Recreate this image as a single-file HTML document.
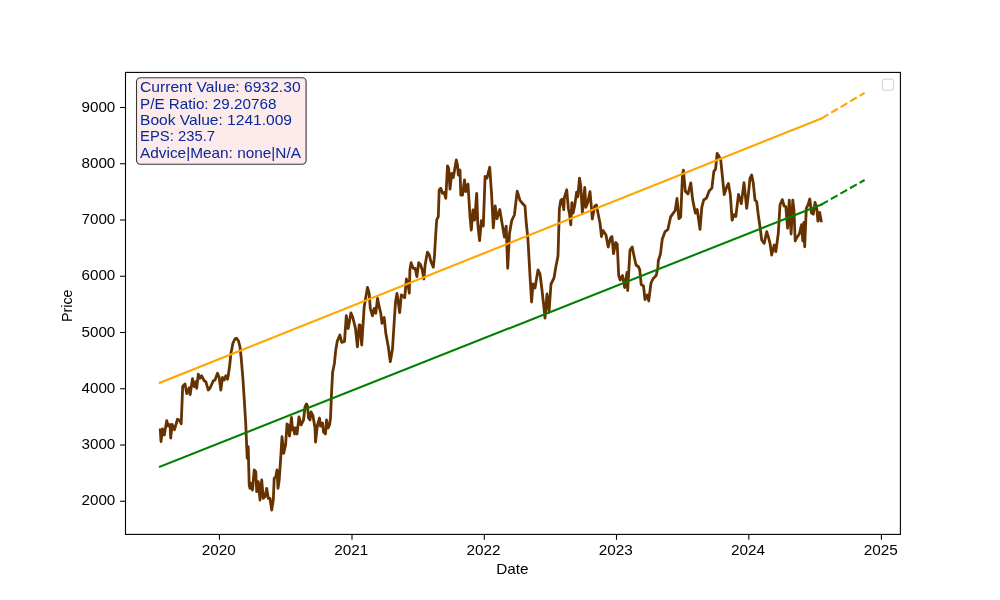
<!DOCTYPE html>
<html><head><meta charset="utf-8"><style>
html,body{margin:0;padding:0;background:#fff;}
svg{display:block;will-change:transform;}
text{font-family:"Liberation Sans", sans-serif;font-size:13.9px;}
</style></head><body>
<svg width="1000" height="600" viewBox="0 0 1000 600">
<rect x="0" y="0" width="1000" height="600" fill="#fff"/>
<path d="M160.2,428.5 L161.0,441.5 L162.5,429.0 L164.3,435.0 L166.7,420.7 L168.2,426.0 L170.0,424.5 L170.7,438.0 L172.2,424.5 L174.5,429.7 L177.5,419.2 L179.7,420.7 L181.2,423.7 L182.7,386.2 L185.0,384.0 L186.8,393.7 L189.2,387.7 L190.2,394.5 L192.5,378.7 L194.2,386.7 L195.8,381.7 L196.7,388.3 L198.3,374.2 L200.0,378.3 L201.7,375.8 L204.2,380.8 L205.8,381.7 L208.3,390.0 L210.0,388.3 L213.3,380.8 L215.0,380.0 L217.5,373.3 L219.2,377.5 L220.8,390.0 L222.5,377.5 L224.2,380.0 L225.8,375.8 L227.5,379.2 L228.2,376.0 L229.6,366.0 L231.0,353.0 L233.0,343.0 L235.0,338.8 L236.6,338.2 L238.5,341.0 L240.0,347.0 L241.2,358.0 L243.0,380.0 L244.6,405.0 L245.8,425.0 L247.2,458.3 L248.2,446.7 L249.2,485.0 L250.0,488.3 L251.3,483.3 L252.5,490.0 L254.2,470.0 L255.8,471.7 L256.7,491.7 L258.3,481.7 L260.0,500.0 L261.7,480.0 L263.3,498.3 L265.0,496.7 L266.7,488.3 L268.3,498.3 L270.0,498.3 L271.7,510.0 L273.3,500.0 L274.2,478.3 L275.8,476.7 L277.0,470.0 L278.0,488.3 L279.2,480.0 L280.8,456.7 L282.0,436.7 L283.7,453.3 L285.6,445.0 L287.0,424.0 L288.0,425.0 L289.5,436.0 L291.5,417.5 L292.5,430.0 L294.0,428.0 L294.5,434.0 L295.5,428.0 L297.0,434.0 L299.0,417.0 L301.0,425.0 L303.5,420.0 L305.0,407.0 L306.5,404.0 L307.5,406.0 L308.5,418.0 L310.0,420.0 L311.0,412.0 L313.0,416.0 L315.0,428.0 L315.5,442.0 L316.5,433.0 L317.5,425.0 L319.5,418.0 L320.5,426.0 L322.5,423.0 L323.5,432.0 L325.5,434.0 L326.5,420.0 L328.0,428.0 L329.5,425.0 L330.5,418.0 L331.5,394.0 L332.6,372.6 L334.4,363.4 L335.7,350.6 L337.2,341.4 L339.9,335.0 L341.8,342.3 L344.5,341.4 L346.3,315.7 L348.2,328.5 L350.9,312.9 L352.8,317.5 L355.5,328.5 L357.4,346.9 L359.2,324.9 L360.0,325.0 L361.7,345.0 L364.2,306.7 L367.5,287.5 L369.2,293.3 L370.3,308.3 L372.5,315.8 L374.2,308.3 L375.8,313.3 L377.5,298.3 L379.2,306.7 L380.8,313.3 L382.0,323.3 L384.2,317.5 L385.8,333.3 L388.3,346.7 L390.3,361.7 L392.5,349.0 L394.0,325.0 L395.5,302.0 L397.0,293.3 L399.7,312.5 L401.3,295.0 L403.7,296.7 L404.7,297.7 L406.4,279.0 L408.2,286.0 L409.3,293.0 L409.9,269.7 L411.1,262.7 L412.3,266.2 L413.4,268.5 L415.2,268.5 L416.9,276.7 L418.7,262.7 L420.4,264.4 L422.2,269.7 L423.9,279.0 L425.1,265.0 L427.4,252.2 L429.2,254.5 L430.9,261.5 L433.3,267.3 L434.4,256.8 L435.8,233.3 L436.7,220.0 L438.3,216.7 L439.2,190.0 L440.8,188.3 L442.5,193.3 L444.2,192.5 L445.8,198.3 L447.5,165.8 L448.7,168.3 L450.0,189.2 L451.7,173.3 L453.3,177.5 L456.3,160.0 L457.5,165.0 L458.3,175.0 L460.0,170.0 L460.8,195.0 L462.5,195.0 L464.5,180.0 L465.8,191.7 L468.0,184.2 L470.0,216.7 L471.3,230.0 L473.0,210.0 L474.7,220.0 L476.7,193.3 L477.8,224.2 L479.6,240.7 L481.4,220.6 L483.3,226.1 L485.1,176.5 L486.9,178.3 L489.7,167.3 L491.5,193.0 L493.3,227.9 L495.2,205.9 L497.0,218.7 L499.8,209.5 L501.6,220.6 L504.4,237.1 L506.2,226.1 L507.7,268.3 L509.5,233.4 L511.7,220.6 L514.4,215.0 L517.2,191.2 L520.0,200.4 L523.0,204.0 L525.0,206.0 L526.0,220.0 L528.0,240.0 L529.0,258.0 L530.0,276.0 L531.6,302.0 L533.0,284.0 L535.0,288.0 L538.0,270.0 L540.0,274.0 L542.0,290.0 L544.0,308.0 L545.0,318.0 L547.0,294.0 L549.0,312.0 L551.0,284.0 L554.0,278.0 L556.0,266.0 L558.0,256.0 L559.4,208.5 L560.8,200.3 L562.0,199.2 L563.8,209.7 L564.3,198.0 L566.7,189.8 L568.4,208.5 L569.6,214.3 L570.8,224.8 L571.9,202.7 L573.1,213.2 L574.8,205.0 L576.6,192.2 L577.8,196.8 L579.5,178.2 L580.7,185.2 L582.4,213.2 L584.8,187.5 L585.9,207.3 L587.7,202.7 L590.0,191.6 L591.2,205.0 L592.3,219.0 L594.7,206.2 L596.4,205.0 L598.2,214.3 L600.0,223.0 L601.5,236.5 L603.0,230.5 L606.0,235.0 L608.2,247.0 L610.5,238.0 L612.0,236.5 L613.5,253.7 L615.7,242.5 L617.2,244.0 L618.7,275.5 L620.2,280.0 L622.5,275.5 L624.7,287.5 L627.0,272.5 L627.7,290.5 L630.0,250.0 L632.2,247.0 L633.7,254.5 L636.0,265.0 L638.2,266.5 L639.7,269.5 L641.2,284.5 L643.5,286.0 L645.0,299.5 L647.2,295.0 L648.7,301.0 L651.0,283.0 L653.2,278.5 L656.2,275.5 L657.8,268.3 L658.3,261.0 L660.5,253.6 L662.3,238.9 L665.1,231.6 L667.8,229.7 L670.6,216.9 L673.3,213.2 L675.2,210.5 L677.0,198.5 L678.9,218.7 L680.7,216.9 L682.5,174.7 L683.4,170.1 L685.3,191.2 L688.0,193.9 L690.8,182.9 L692.6,199.4 L695.4,213.2 L697.2,209.5 L700.0,229.4 L701.8,207.4 L703.7,200.0 L706.4,198.2 L709.2,190.9 L711.9,188.1 L713.8,171.6 L715.6,168.9 L717.1,153.3 L718.9,156.0 L720.7,159.7 L722.0,172.5 L724.2,194.5 L726.6,187.2 L728.4,183.5 L730.3,194.5 L732.1,220.2 L733.9,214.7 L735.8,216.6 L738.5,194.5 L741.3,203.7 L744.0,182.6 L746.7,208.3 L748.3,195.0 L750.0,178.3 L751.7,175.0 L753.3,183.3 L755.0,200.0 L756.7,201.7 L758.3,215.0 L760.0,226.7 L761.7,240.0 L764.2,243.3 L766.7,231.7 L768.3,236.7 L770.0,243.3 L771.7,255.0 L774.2,245.0 L775.8,251.7 L778.3,233.3 L780.0,205.0 L782.3,199.6 L784.1,206.0 L785.8,206.6 L787.6,228.2 L789.3,200.2 L791.1,234.0 L792.8,200.2 L794.0,210.7 L795.2,241.0 L796.9,237.5 L799.3,234.0 L801.6,224.7 L802.8,241.0 L803.9,222.3 L804.7,246.8 L806.3,208.3 L808.0,204.8 L809.8,199.0 L811.5,213.0 L813.3,214.2 L815.0,202.5 L816.8,208.3 L817.9,221.2 L819.7,212.4 L821.4,222.3" fill="none" stroke="#663300" stroke-width="2.8" stroke-linejoin="round" stroke-linecap="butt"/>
<line x1="159.8" y1="382.8" x2="821.7" y2="118.3" stroke="#ffa500" stroke-width="2.08" stroke-linecap="square"/>
<line x1="821.7" y1="118.3" x2="864.6" y2="92.9" stroke="#ffa500" stroke-width="2.08" stroke-dasharray="7.7 3.33"/>
<line x1="160" y1="466.7" x2="821.25" y2="204.6" stroke="#008000" stroke-width="2.08" stroke-linecap="square"/>
<line x1="821.25" y1="204.6" x2="864.6" y2="180" stroke="#008000" stroke-width="2.08" stroke-dasharray="7.7 3.33"/>
<rect x="125.5" y="72.4" width="774.9" height="462" fill="none" stroke="#000" stroke-width="1.1"/>
<line x1="120.1" y1="501.25" x2="125.5" y2="501.25" stroke="#000" stroke-width="1.1"/>
<text x="115.3" y="505.25" text-anchor="end" textLength="33.8" lengthAdjust="spacingAndGlyphs">2000</text>
<line x1="120.1" y1="445.00" x2="125.5" y2="445.00" stroke="#000" stroke-width="1.1"/>
<text x="115.3" y="449.00" text-anchor="end" textLength="33.8" lengthAdjust="spacingAndGlyphs">3000</text>
<line x1="120.1" y1="388.75" x2="125.5" y2="388.75" stroke="#000" stroke-width="1.1"/>
<text x="115.3" y="392.75" text-anchor="end" textLength="33.8" lengthAdjust="spacingAndGlyphs">4000</text>
<line x1="120.1" y1="332.50" x2="125.5" y2="332.50" stroke="#000" stroke-width="1.1"/>
<text x="115.3" y="336.50" text-anchor="end" textLength="33.8" lengthAdjust="spacingAndGlyphs">5000</text>
<line x1="120.1" y1="276.25" x2="125.5" y2="276.25" stroke="#000" stroke-width="1.1"/>
<text x="115.3" y="280.25" text-anchor="end" textLength="33.8" lengthAdjust="spacingAndGlyphs">6000</text>
<line x1="120.1" y1="220.00" x2="125.5" y2="220.00" stroke="#000" stroke-width="1.1"/>
<text x="115.3" y="224.00" text-anchor="end" textLength="33.8" lengthAdjust="spacingAndGlyphs">7000</text>
<line x1="120.1" y1="163.75" x2="125.5" y2="163.75" stroke="#000" stroke-width="1.1"/>
<text x="115.3" y="167.75" text-anchor="end" textLength="33.8" lengthAdjust="spacingAndGlyphs">8000</text>
<line x1="120.1" y1="107.50" x2="125.5" y2="107.50" stroke="#000" stroke-width="1.1"/>
<text x="115.3" y="111.50" text-anchor="end" textLength="33.8" lengthAdjust="spacingAndGlyphs">9000</text>
<line x1="219.4" y1="534.4" x2="219.4" y2="539.8" stroke="#000" stroke-width="1.1"/>
<text x="218.70" y="555.1" text-anchor="middle" textLength="34.1" lengthAdjust="spacingAndGlyphs">2020</text>
<line x1="352.0" y1="534.4" x2="352.0" y2="539.8" stroke="#000" stroke-width="1.1"/>
<text x="351.30" y="555.1" text-anchor="middle" textLength="34.1" lengthAdjust="spacingAndGlyphs">2021</text>
<line x1="484.3" y1="534.4" x2="484.3" y2="539.8" stroke="#000" stroke-width="1.1"/>
<text x="483.60" y="555.1" text-anchor="middle" textLength="34.1" lengthAdjust="spacingAndGlyphs">2022</text>
<line x1="616.5" y1="534.4" x2="616.5" y2="539.8" stroke="#000" stroke-width="1.1"/>
<text x="615.80" y="555.1" text-anchor="middle" textLength="34.1" lengthAdjust="spacingAndGlyphs">2023</text>
<line x1="748.8" y1="534.4" x2="748.8" y2="539.8" stroke="#000" stroke-width="1.1"/>
<text x="748.10" y="555.1" text-anchor="middle" textLength="34.1" lengthAdjust="spacingAndGlyphs">2024</text>
<line x1="881.4" y1="534.4" x2="881.4" y2="539.8" stroke="#000" stroke-width="1.1"/>
<text x="880.70" y="555.1" text-anchor="middle" textLength="34.1" lengthAdjust="spacingAndGlyphs">2025</text>
<text x="512.3" y="573.9" text-anchor="middle" textLength="32.3" lengthAdjust="spacingAndGlyphs">Date</text>
<text transform="translate(72.1,305.8) rotate(-90)" x="0" y="0" text-anchor="middle" textLength="32.6" lengthAdjust="spacingAndGlyphs">Price</text>
<rect x="136.5" y="77.8" width="169.6" height="86.4" rx="4" ry="4" fill="#fdeaea" stroke="#383838" stroke-width="1.1"/>
<g fill="#08299c">
<text fill="#08299c" x="140.0" y="91.5" textLength="160.6" lengthAdjust="spacingAndGlyphs">Current Value: 6932.30</text>
<text fill="#08299c" x="140.0" y="109.2" textLength="136.4" lengthAdjust="spacingAndGlyphs">P/E Ratio: 29.20768</text>
<text fill="#08299c" x="140.0" y="124.8" textLength="152.0" lengthAdjust="spacingAndGlyphs">Book Value: 1241.009</text>
<text fill="#08299c" x="140.0" y="141.0" textLength="75.0" lengthAdjust="spacingAndGlyphs">EPS: 235.7</text>
<text fill="#08299c" x="140.0" y="157.8" textLength="161.0" lengthAdjust="spacingAndGlyphs">Advice|Mean: none|N/A</text>
</g>
<rect x="882.25" y="79.25" width="11.25" height="11" rx="2.5" ry="2.5" fill="#fff" stroke="#d6d6d6" stroke-width="1.1"/>
</svg>
</body></html>
